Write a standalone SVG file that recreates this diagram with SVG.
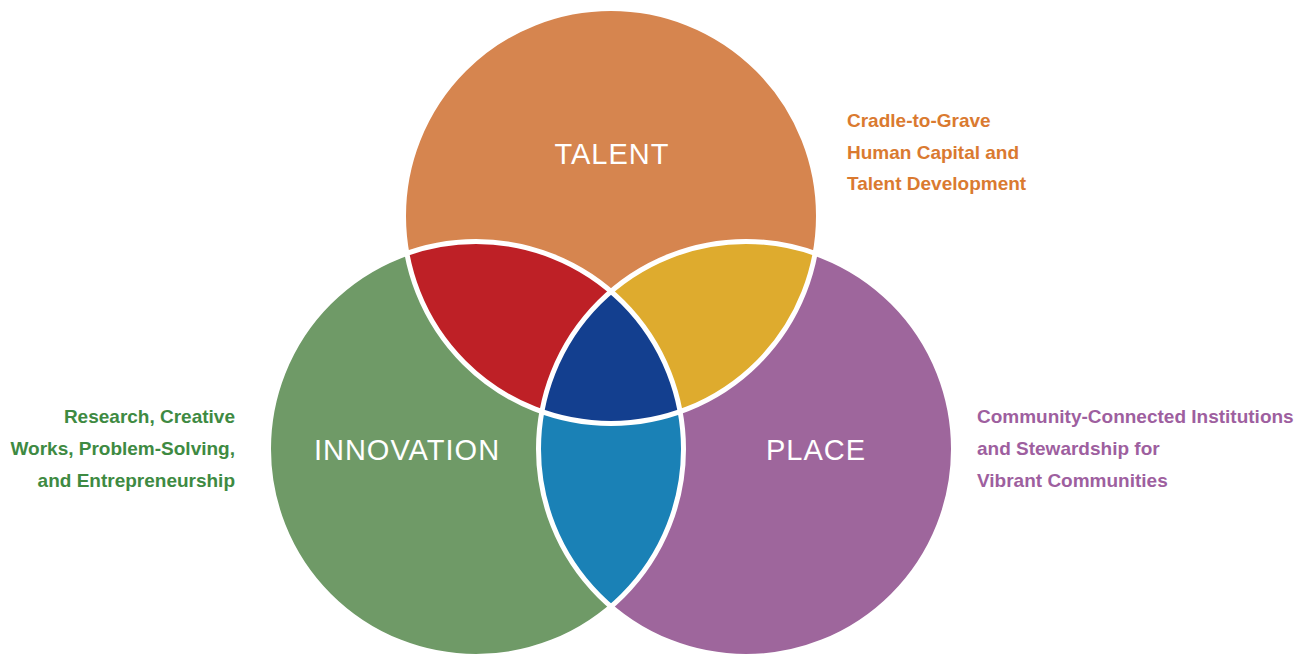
<svg xmlns="http://www.w3.org/2000/svg" width="1304" height="656" viewBox="0 0 1304 656">
<style>
.lbl{font-family:"Liberation Sans",Arial,sans-serif;font-size:29px;fill:#fff;text-anchor:middle;letter-spacing:1px}
.side{font-family:"Liberation Sans",Arial,sans-serif;font-size:19px;font-weight:bold}
.ring{fill:none;stroke:#fff;stroke-width:5}
</style>
<defs>
<circle id="cT" cx="611" cy="216" r="207.5"/>
<circle id="cI" cx="476" cy="449" r="207.5"/>
<circle id="cP" cx="746" cy="449" r="207.5"/>
<clipPath id="clipT"><use href="#cT"/></clipPath>
<clipPath id="clipI"><use href="#cI"/></clipPath>
</defs>
<rect width="1304" height="656" fill="#fff"/>
<g id="talent"><use href="#cT" fill="#D6854F"/></g>
<g id="innovation"><use href="#cI" fill="#6F9A67"/></g>
<g id="place"><use href="#cP" fill="#9E669C"/></g>
<g id="talent-innovation" clip-path="url(#clipT)"><use href="#cI" fill="#BE2026"/></g>
<g id="talent-place" clip-path="url(#clipT)"><use href="#cP" fill="#DEAB2E"/></g>
<g id="innovation-place" clip-path="url(#clipI)"><use href="#cP" fill="#1A81B6"/></g>
<g id="center" clip-path="url(#clipT)"><g clip-path="url(#clipI)"><use href="#cP" fill="#133F8F"/></g></g>
<g id="outlines">
<use href="#cT" class="ring"/>
<use href="#cI" class="ring"/>
<use href="#cP" class="ring"/>
</g>
<g id="labels">
<text class="lbl" x="612" y="164">TALENT</text>
<text class="lbl" x="407" y="460" letter-spacing="1.5">INNOVATION</text>
<text class="lbl" x="816" y="460" letter-spacing="0.3">PLACE</text>
</g>
<g id="note-talent" class="side" fill="#DA7A30">
<text x="847" y="127">Cradle-to-Grave</text>
<text x="847" y="159">Human Capital and</text>
<text x="847" y="190">Talent Development</text>
</g>
<g id="note-innovation" class="side" fill="#3E8A42" text-anchor="end">
<text x="235" y="423">Research, Creative</text>
<text x="235" y="455">Works, Problem-Solving,</text>
<text x="235" y="487">and Entrepreneurship</text>
</g>
<g id="note-place" class="side" fill="#9E5F9F">
<text x="977" y="423">Community-Connected Institutions</text>
<text x="977" y="455">and Stewardship for</text>
<text x="977" y="487">Vibrant Communities</text>
</g>
</svg>
